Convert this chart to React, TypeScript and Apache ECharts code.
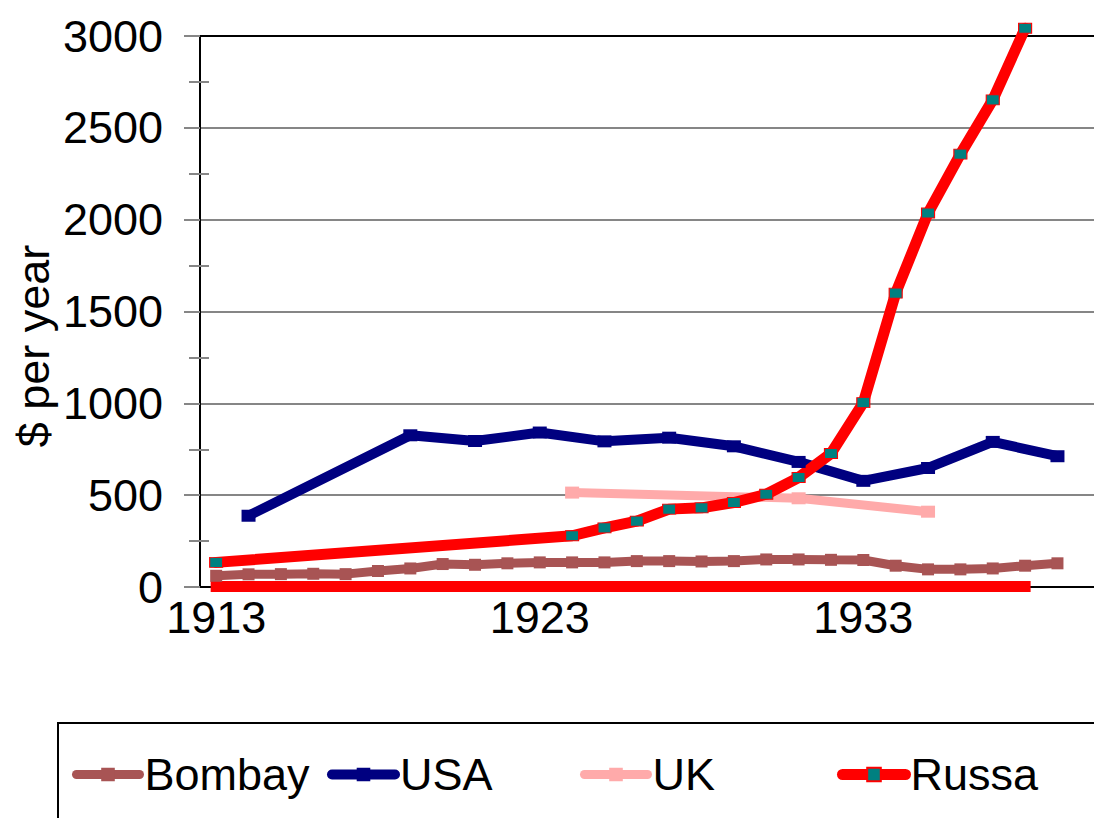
import React, { useEffect, useRef } from "react";
import * as echarts from "echarts";

const FONT = '"Liberation Sans", Arial, sans-serif';

const years = [
  "1913", "1914", "1915", "1916", "1917", "1918", "1919", "1920", "1921", "1922",
  "1923", "1924", "1925", "1926", "1927", "1928", "1929", "1930", "1931", "1932",
  "1933", "1934", "1935", "1936", "1937", "1938", "1939", "1940",
];
const labelYears = ["1913", "1923", "1933"];

const bombayYears = [
  1913, 1914, 1915, 1916, 1917, 1918, 1919, 1920, 1921, 1922, 1923, 1924, 1925, 1926,
  1927, 1928, 1929, 1930, 1931, 1932, 1933, 1934, 1935, 1936, 1937, 1938, 1939,
];
const bombayValues = [
  61, 69, 70, 72, 70, 87, 101, 125, 121, 129, 134, 134, 134, 141,
  141, 139, 141, 150, 150, 148, 147, 116, 96, 96, 101, 116, 129,
];

const usaYears = [1914, 1919, 1921, 1923, 1925, 1927, 1929, 1931, 1933, 1935, 1937, 1939];
const usaValues = [388, 826, 795, 841, 793, 813, 766, 681, 578, 648, 790, 712];

const ukYears = [1924, 1931, 1935];
const ukValues = [514, 483, 410];

const russaYears = [1913, 1924, 1925, 1926, 1927, 1928, 1929, 1930, 1931, 1932, 1933, 1934, 1935, 1936, 1937, 1938];
const russaValues = [134, 279, 322, 359, 424, 431, 460, 505, 596, 727, 1004, 1600, 2036, 2357, 2652, 3042];

const russaLowYears = [
  1913, 1914, 1915, 1916, 1917, 1918, 1919, 1920, 1921, 1922, 1923, 1924, 1925,
  1926, 1927, 1928, 1929, 1930, 1931, 1932, 1933, 1934, 1935, 1936, 1937, 1938,
];
const russaLowValues = [
  3, 3, 3, 3, 3, 3, 3, 3, 3, 3, 3, 3, 3,
  3, 3, 3, 3, 3, 3, 3, 3, 3, 3, 3, 3, 3,
];

function toSeries(ys: number[], vs: number[]) {
  return years.map((y) => {
    const i = ys.indexOf(Number(y));
    return i >= 0 ? vs[i] : null;
  });
}

const GREY = "#868686";
const C_BOMBAY = "#A85454";
const C_USA = "#000080";
const C_UK = "#FFAAAA";
const C_RUSSA = "#FF0000";
const FS = 45;

export default function App() {
  const ref = useRef<HTMLDivElement>(null);
  useEffect(() => {
    if (!ref.current) return;
    const chart = echarts.init(ref.current, undefined, { renderer: "svg" });
    const legendCommon = {
      top: 752,
      padding: 0,
      itemWidth: 63,
      itemHeight: 17,
      textStyle: { fontSize: FS, color: "#000", fontFamily: FONT },
    };
    const tickStyle = { color: GREY, width: 2 };
    chart.setOption({
      animation: false,
      textStyle: { fontFamily: FONT },
      grid: { left: 200, top: 36, right: -12, bottom: 231, containLabel: false, outerBoundsMode: "none" },
      xAxis: [
        {
          type: "category",
          data: years,
          boundaryGap: true,
          position: "bottom",
          axisLine: { onZero: false, lineStyle: { color: "#000", width: 2 } },
          axisTick: { alignWithLabel: true, interval: 0, length: 11, lineStyle: tickStyle },
          axisLabel: {
            interval: (_i: number, v: string) => labelYears.includes(v),
            margin: 8,
            color: "#000",
            fontSize: FS,
            fontFamily: FONT,
          },
          splitLine: { show: false },
        },
        {
          type: "category",
          data: years,
          position: "top",
          axisLine: { onZero: false, lineStyle: { color: "#000", width: 2 } },
          axisTick: { show: false },
          axisLabel: { show: false },
          splitLine: { show: false },
        },
        {
          type: "category",
          data: years,
          position: "bottom",
          axisLine: { show: false, onZero: false },
          axisTick: { inside: true, alignWithLabel: true, interval: 0, length: 12, lineStyle: tickStyle },
          axisLabel: { show: false },
          splitLine: { show: false },
        },
      ],
      yAxis: [
        {
          type: "value",
          min: 0,
          max: 3000,
          interval: 500,
          position: "left",
          axisLine: { show: true, lineStyle: { color: "#000", width: 2 } },
          axisTick: { show: true, length: 16, lineStyle: tickStyle },
          minorTick: { show: true, splitNumber: 2, length: 11, lineStyle: tickStyle },
          splitLine: { show: true, lineStyle: { color: GREY, width: 2 } },
          axisLabel: {
            margin: 37,
            fontSize: FS,
            color: "#000",
            fontFamily: FONT,
            formatter: (v: number) => String(v),
          },
        },
        {
          type: "value",
          min: 0,
          max: 3000,
          interval: 500,
          position: "left",
          axisLine: { show: false },
          axisTick: { show: false, inside: true },
          minorTick: { show: true, splitNumber: 2, length: 9, lineStyle: tickStyle },
          splitLine: { show: false },
          axisLabel: { show: false },
        },
      ],
      legend: [
        { ...legendCommon, left: 72, data: ["Bombay"], lineStyle: { width: 9, cap: "round" } },
        { ...legendCommon, left: 327, data: ["USA"], lineStyle: { width: 10, cap: "round" } },
        { ...legendCommon, left: 580, data: ["UK"], lineStyle: { width: 9, cap: "round" } },
        { ...legendCommon, left: 837, data: ["Russa"], lineStyle: { width: 11, cap: "round" } },
      ],
      graphic: [
        {
          type: "rect",
          z: -1,
          shape: { x: 58, y: 723, width: 1100, height: 200 },
          style: { fill: "none", stroke: "#000", lineWidth: 2 },
        },
        {
          type: "text",
          x: 33,
          y: 346,
          rotation: Math.PI / 2,
          style: {
            text: "$ per year",
            font: `${FS}px ${FONT}`,
            fill: "#000",
            align: "center",
            verticalAlign: "middle",
          },
        },
      ],
      series: [
        {
          name: "Bombay",
          type: "line",
          data: toSeries(bombayYears, bombayValues),
          connectNulls: true,
          clip: false,
          symbol: "rect",
          symbolSize: [12, 12],
          lineStyle: { color: C_BOMBAY, width: 9, cap: "round" },
          itemStyle: { color: C_BOMBAY },
        },
        {
          name: "USA",
          type: "line",
          data: toSeries(usaYears, usaValues),
          connectNulls: true,
          clip: false,
          symbol: "rect",
          symbolSize: [14, 12],
          lineStyle: { color: C_USA, width: 10, cap: "round" },
          itemStyle: { color: C_USA },
        },
        {
          name: "UK",
          type: "line",
          data: toSeries(ukYears, ukValues),
          connectNulls: true,
          clip: false,
          symbol: "rect",
          symbolSize: [14, 12],
          lineStyle: { color: C_UK, width: 9, cap: "round" },
          itemStyle: { color: C_UK },
        },
        {
          name: "Russa",
          type: "line",
          data: toSeries(russaYears, russaValues),
          connectNulls: true,
          clip: false,
          symbol: "rect",
          symbolSize: [13, 10],
          lineStyle: { color: C_RUSSA, width: 11, cap: "round" },
          itemStyle: { color: "#008080", borderColor: C_RUSSA, borderWidth: 1 },
        },
        {
          name: "Russa (low)",
          type: "line",
          data: toSeries(russaLowYears, russaLowValues),
          connectNulls: true,
          clip: false,
          symbol: "none",
          lineStyle: { color: C_RUSSA, width: 11, cap: "square" },
        },
      ],
    });
    return () => chart.dispose();
  }, []);
  return (
    <div
      ref={ref}
      style={{ position: "absolute", left: 0, top: 0, width: 1094, height: 818, overflow: "hidden" }}
    />
  );
}
